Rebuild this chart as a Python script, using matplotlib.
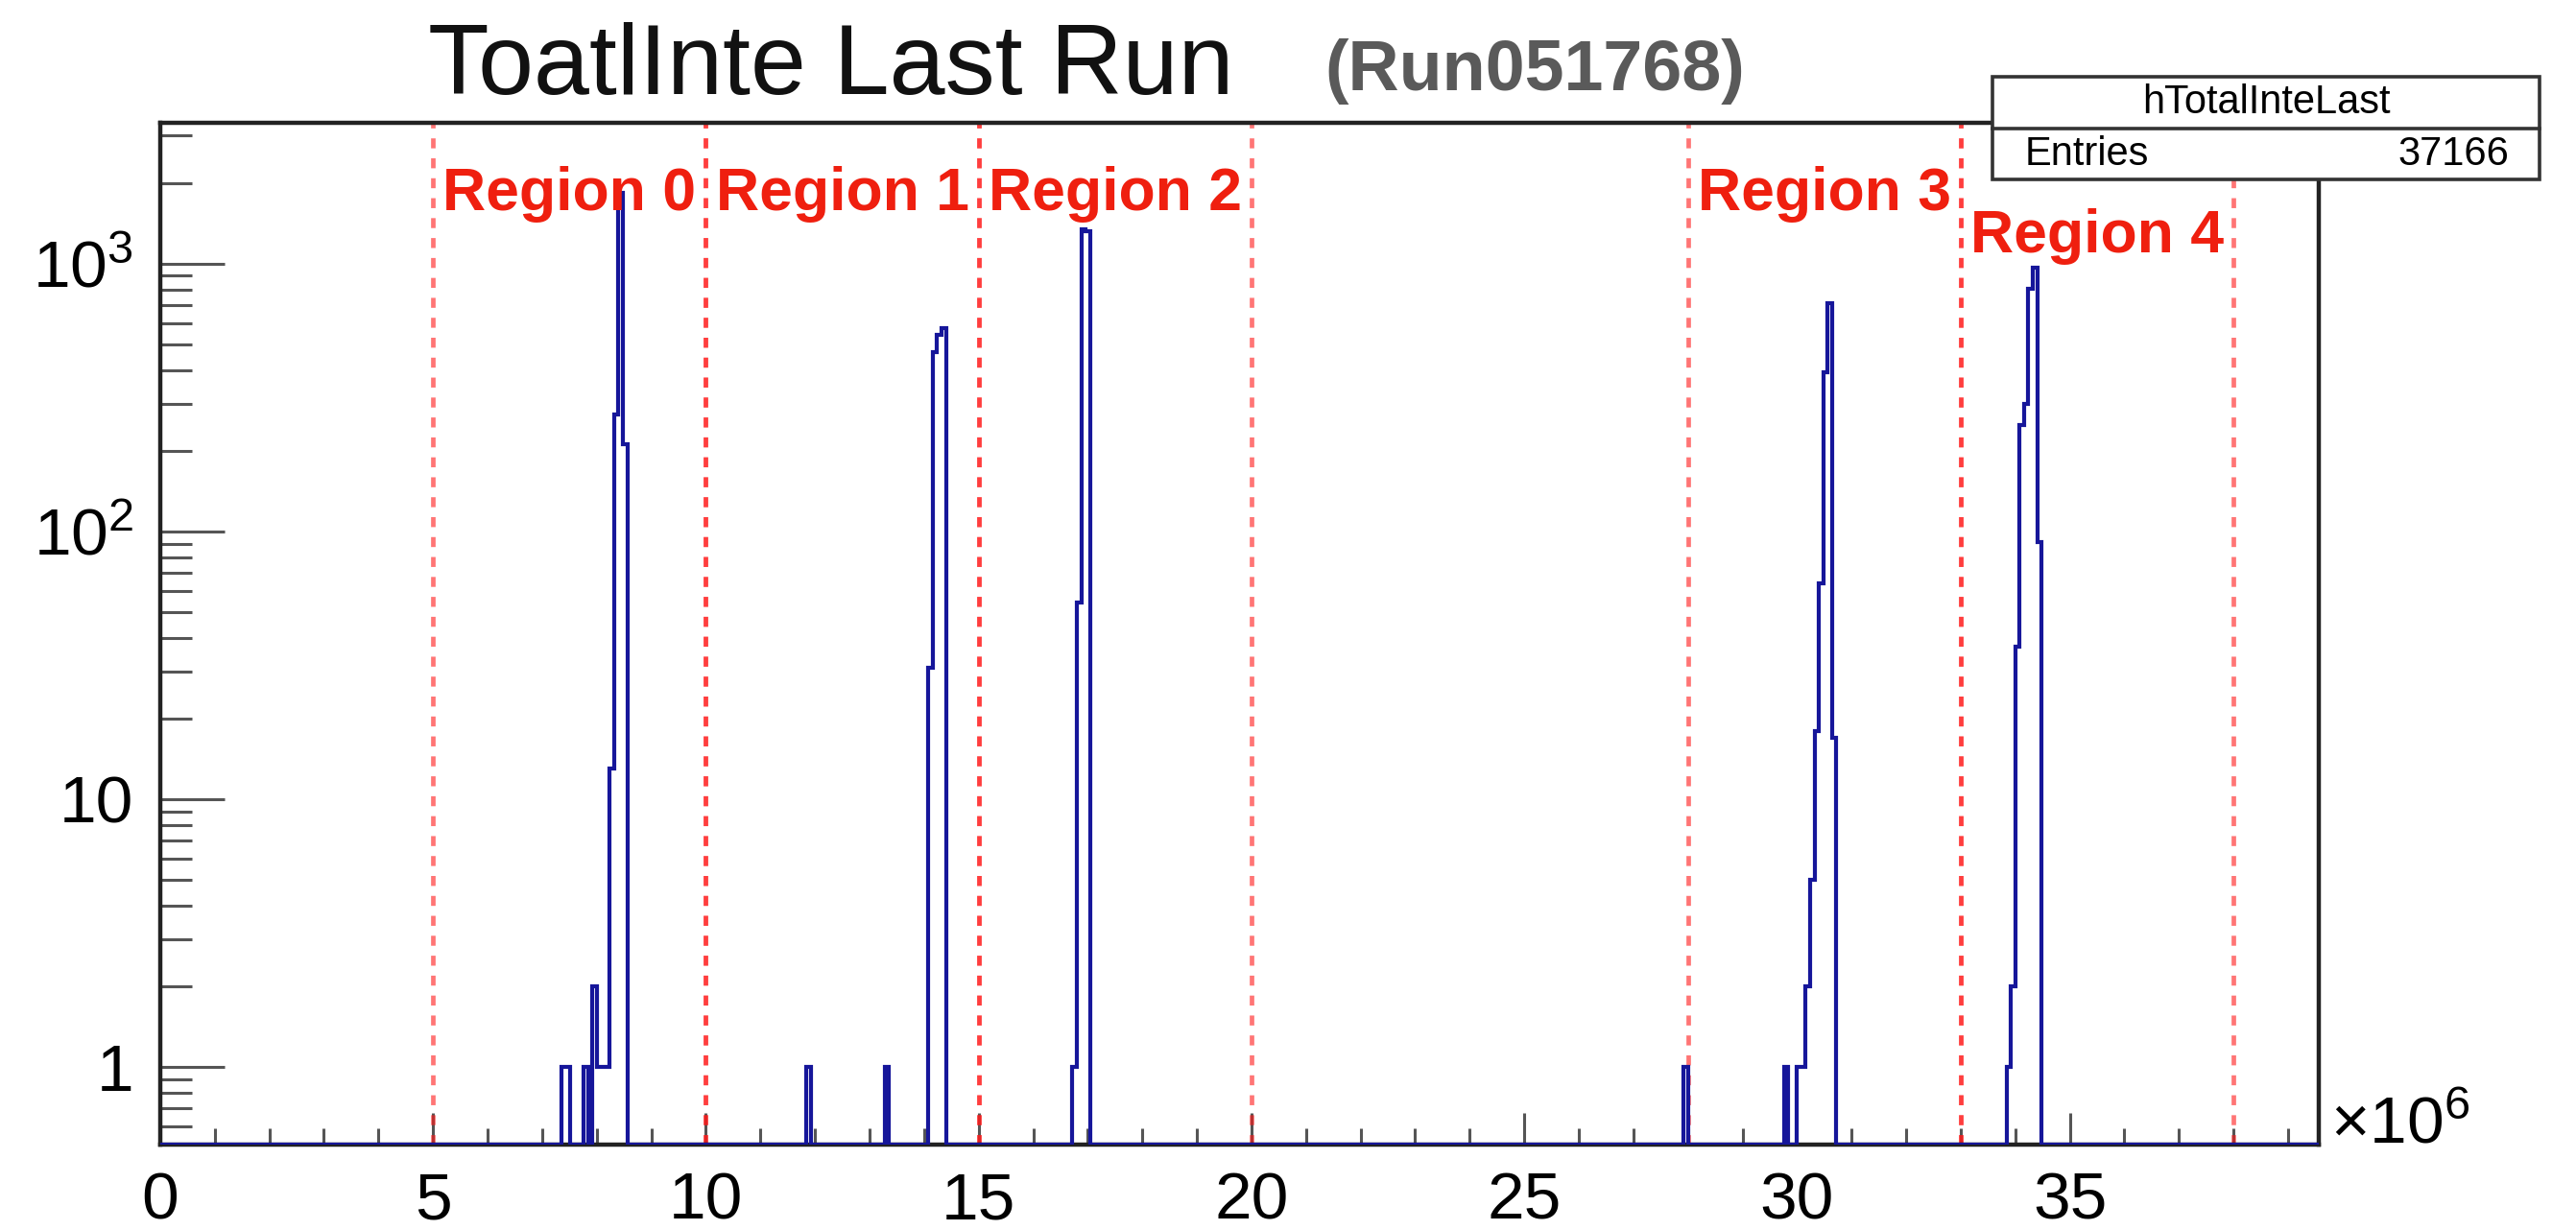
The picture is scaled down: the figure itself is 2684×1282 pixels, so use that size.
import numpy as np
import matplotlib
matplotlib.use("Agg")
import matplotlib.pyplot as plt
from matplotlib.patches import Rectangle
from matplotlib.lines import Line2D
from matplotlib.ticker import FixedLocator, FixedFormatter, LogLocator, MultipleLocator, NullFormatter

plt.rcParams['font.family'] = ['Liberation Sans', 'DejaVu Sans']
plt.rcParams['mathtext.fontset'] = 'custom'
plt.rcParams['mathtext.rm'] = 'Liberation Sans'

# histogram: 500 bins of 0.08e6 from 0 to 40e6, only filled bins listed
bin_width = 0.08  # x10^6
n_bins = 500
filled_bins = [92, 93, 97, 99, 100, 101, 102, 103, 104, 105, 106,
               148, 166, 176, 177, 178, 179,
               209, 210, 211, 212,
               349, 372, 375, 376, 377, 378, 379, 380, 381, 382, 383,
               423, 424, 425, 426, 427, 428, 429, 430]
bin_counts = [1, 1, 1, 2, 1, 1, 1, 13, 274, 1840, 211,
              1, 1, 31, 465, 540, 575,
              1, 54, 1340, 1320,
              1, 1, 1, 1, 2, 5, 18, 64, 394, 710, 17,
              1, 2, 37, 250, 300, 807, 966, 91]

region_names = ["Region 0", "Region 1", "Region 2", "Region 3", "Region 4"]
region_start = [5, 10, 15, 28, 33]
region_end = [10, 15, 20, 33, 38]
label_y = [0.93, 0.93, 0.93, 0.93, 0.888]

entries = 37166
hist_name = "hTotalInteLast"
title = "ToatlInte Last Run"
run_tag = "(Run051768)"

x_max = 39.56
y_min, y_max = 0.513, 3363

fig = plt.figure(figsize=(26.84, 12.82), dpi=100)
ax = fig.add_axes([0.0622, 0.0694, 0.9001 - 0.0622, 0.9005 - 0.0694])

edges = np.arange(n_bins + 1) * bin_width
vals = np.full(n_bins, y_min)
for b, c in zip(filled_bins, bin_counts):
    vals[b] = c
ax.stairs(vals, edges, baseline=y_min, color='#16169a', lw=3.0, zorder=3)

for s, e in zip(region_start, region_end):
    for xv in (s, e):
        ax.axvline(xv, color='#ff1a1a', alpha=0.6, lw=3.4, ls=(0, (2.2, 2.2)), zorder=2)

for name, s, e, yy in zip(region_names, region_start, region_end, label_y):
    ax.text((s + e) / 2, yy, name, transform=ax.get_xaxis_transform(),
            ha='center', va='center', fontsize=45, fontweight='bold',
            color='#ef1f0f', zorder=4)

ax.set_yscale('log')
ax.set_xlim(0, x_max)
ax.set_ylim(y_min, y_max)

ax.xaxis.set_major_locator(MultipleLocator(5))
ax.xaxis.set_minor_locator(MultipleLocator(1))
ax.yaxis.set_major_locator(FixedLocator([1, 10, 100, 1000]))
ax.yaxis.set_major_formatter(FixedFormatter(['1', '10', r'$\mathregular{10^{2}}$', r'$\mathregular{10^{3}}$']))
ax.yaxis.set_minor_locator(LogLocator(base=10, subs=np.arange(2, 10) / 1.0, numticks=20))
ax.yaxis.set_minor_formatter(NullFormatter())

ax.tick_params(axis='both', which='both', direction='in', color='#555555', width=2.2,
               labelsize=50, top=False, right=False)
ax.tick_params(axis='x', which='major', length=24, pad=20)
ax.tick_params(axis='x', which='minor', length=12)
ax.tick_params(axis='y', which='major', length=48, pad=20)
ax.tick_params(axis='y', which='minor', length=24)
for sp in ax.spines.values():
    sp.set_linewidth(3.2)
    sp.set_color('#222222')

fig.text(2428 / 2684, 0.085, r'×$\mathregular{10^{6}}$', fontsize=50, ha='left', va='center')

fig.text(446 / 2684, 0.9236, title, fontsize=75, ha='left', va='baseline', color='#111111')
fig.text(1380 / 2684, 0.927, run_tag, fontsize=53, fontweight='bold', ha='left', va='baseline', color='#5a5a5a')

# stats box
bx0, bx1 = 2076 / 2684, 2646 / 2684
by0, by1, bmid = 1 - 187 / 1282, 1 - 80 / 1282, 1 - 134 / 1282
box = Rectangle((bx0, by0), bx1 - bx0, by1 - by0, transform=fig.transFigure,
                facecolor='white', edgecolor='#333333', lw=2.6, zorder=10)
fig.add_artist(box)
fig.add_artist(Line2D([bx0, bx1], [bmid, bmid], transform=fig.transFigure,
                      color='#333333', lw=2.6, zorder=11))
fig.text((bx0 + bx1) / 2, (bmid + by1) / 2, hist_name, fontsize=30, ha='center', va='center', zorder=12)
fig.text(2110 / 2684, (by0 + bmid) / 2, "Entries", fontsize=30, ha='left', va='center', zorder=12)
fig.text(2614 / 2684, (by0 + bmid) / 2, str(entries), fontsize=30, ha='right', va='center', zorder=12)

fig.savefig("out.png", dpi=100)
